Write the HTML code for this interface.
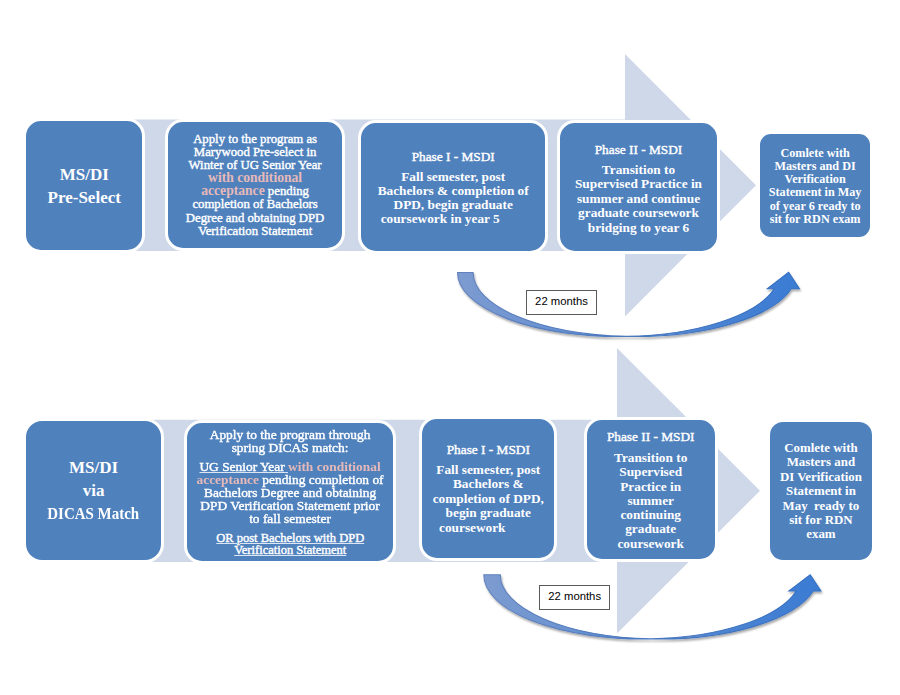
<!DOCTYPE html>
<html><head><meta charset="utf-8">
<style>
html,body{margin:0;padding:0;background:#fff;}
#c{position:relative;width:900px;height:695px;overflow:hidden;background:#fff;}
svg{position:absolute;left:0;top:0;}
.b{position:absolute;box-sizing:border-box;background:#4F81BD;border:3px solid #fff;}
.t{position:absolute;text-align:center;color:#fff;font-family:"Liberation Serif",serif;white-space:nowrap;}
.bold{font-weight:bold;}
.reg{-webkit-text-stroke:0.4px #fff;}
.sx{transform:scaleX(1.03);transform-origin:50% 0;}
.pk{color:#E6B9B8;font-weight:bold;-webkit-text-stroke:0;}
.u{text-decoration:underline;text-decoration-thickness:1px;text-underline-offset:1px;text-decoration-color:rgba(255,255,255,0.8);}
.lbl{position:absolute;box-sizing:border-box;border:1.2px solid #5a5a5a;background:#fff;font-family:"Liberation Sans",sans-serif;font-size:11.3px;color:#000;text-align:center;}
</style></head><body><div id="c">
<svg width="900" height="695" viewBox="0 0 900 695">
 <defs>
  <linearGradient id="g1" x1="0" x2="1" y1="0" y2="0">
   <stop offset="0" stop-color="#7C9BD0"/><stop offset="1" stop-color="#3A7BD3"/>
  </linearGradient>
  <linearGradient id="g2" x1="0" x2="1" y1="0" y2="0">
   <stop offset="0" stop-color="#6282BD"/><stop offset="1" stop-color="#336FC2"/>
  </linearGradient>
  <filter id="sh" x="-10%" y="-20%" width="120%" height="150%">
   <feGaussianBlur in="SourceAlpha" stdDeviation="1.2"/>
   <feOffset dx="0.5" dy="1.5" result="o"/>
   <feComponentTransfer><feFuncA type="linear" slope="0.35"/></feComponentTransfer>
   <feMerge><feMergeNode/><feMergeNode in="SourceGraphic"/></feMerge>
  </filter>
 </defs>
 <path d="M84,119.6 L625,119.6 L625,54 L756,185.2 L625,316.4 L625,250.9 L84,250.9 Z" fill="#CFD8E8"/>
 <path d="M94,419.8 L617,419.8 L617,348 L760,490.8 L617,633.6 L617,561.9 L94,561.9 Z" fill="#CFD8E8"/>
 <path d="M457.50,272.50 L473.10,272.50 A161.72,64.00 0 0 0 626.67,336.42 A161.06,64.00 0 0 0 774.30,288.80 L767.30,288.80 L788.60,272.20 L799.40,288.80 L791.20,288.80 A161.72,64.00 0 0 1 626.67,336.42 A161.06,64.00 0 0 1 457.50,272.50 Z" fill="url(#g1)" stroke="url(#g2)" stroke-width="1.1" stroke-linejoin="miter" filter="url(#sh)"/>
 <path d="M483.80,574.70 L500.30,574.70 A159.05,64.30 0 0 0 650.99,638.91 A158.84,64.30 0 0 0 796.30,591.00 L788.90,591.00 L810.20,574.70 L820.90,591.00 L813.20,591.00 A159.05,64.30 0 0 1 650.99,638.91 A158.84,64.30 0 0 1 483.80,574.70 Z" fill="url(#g1)" stroke="url(#g2)" stroke-width="1.1" stroke-linejoin="miter" filter="url(#sh)"/>
</svg>
<div class="b" style="left:23.20px;top:118.10px;width:122.10px;height:134.60px;border-radius:18.00px;border-width:3px"></div>
<div class="b" style="left:165.10px;top:119.20px;width:180.00px;height:132.10px;border-radius:18.00px;border-width:3px"></div>
<div class="b" style="left:358.20px;top:120.30px;width:190.00px;height:134.10px;border-radius:18.00px;border-width:3px"></div>
<div class="b" style="left:557.10px;top:120.30px;width:162.80px;height:134.10px;border-radius:18.00px;border-width:3px"></div>
<div class="b" style="left:760.00px;top:134.10px;width:110.20px;height:102.70px;border-radius:11.00px;border-width:0px"></div>
<div class="b" style="left:23.00px;top:418.30px;width:141.10px;height:144.60px;border-radius:19.00px;border-width:3px"></div>
<div class="b" style="left:184.20px;top:420.30px;width:212.10px;height:143.30px;border-radius:18.00px;border-width:3px"></div>
<div class="b" style="left:419.20px;top:415.80px;width:138.20px;height:145.50px;border-radius:18.00px;border-width:3px"></div>
<div class="b" style="left:583.70px;top:416.90px;width:134.00px;height:145.50px;border-radius:18.00px;border-width:3px"></div>
<div class="b" style="left:770.00px;top:421.60px;width:101.80px;height:138.20px;border-radius:13.00px;border-width:0px"></div>
<div class="t bold" style="left:26.20px;width:116.10px;top:162.5px;font-size:17px;line-height:23px;">MS/DI<br>Pre-Select</div>
<div class="t reg" style="left:168.10px;width:174.00px;top:133px;font-size:12.75px;line-height:13.1px;">Apply to the program as<br>Marywood Pre-select in<br>Winter of UG Senior Year<br><span class="pk" style="font-size:13.6px;line-height:0">with conditional</span><br><span class="pk" style="font-size:13.6px;line-height:0">acceptance</span> pending<br>completion of Bachelors<br>Degree and obtaining DPD<br>Verification Statement</div>
<div class="t reg" style="left:361.20px;width:184.00px;top:149.5px;font-size:13.3px;line-height:14px;">Phase I - MSDI</div>
<div class="t bold" style="left:361.20px;width:184.00px;top:170px;font-size:13.3px;line-height:14px;">Fall semester, post<br>Bachelors &amp; completion of<br>DPD, begin graduate<br><span style="margin-right:26px">coursework in year 5</span></div>
<div class="t reg" style="left:560.10px;width:156.80px;top:142.5px;font-size:13.3px;line-height:14.3px;">Phase II - MSDI</div>
<div class="t bold" style="left:560.10px;width:156.80px;top:162.5px;font-size:13.3px;line-height:14.6px;">Transition to<br>Supervised Practice in<br>summer and continue<br>graduate coursework<br>bridging to year 6</div>
<div class="t bold" style="left:760.00px;width:110.20px;top:146.5px;font-size:12.2px;line-height:13.3px;">Comlete with<br>Masters and DI<br>Verification<br>Statement in May<br>of year 6 ready to<br>sit for RDN exam</div>
<div class="t bold" style="left:26.00px;width:135.10px;top:456px;font-size:17px;line-height:23px;">MS/DI<br>via<br><span style="display:inline-block;transform:scaleX(0.88)">DICAS Match</span></div>
<div class="t reg sx" style="left:187.20px;width:206.10px;top:428px;font-size:13px;line-height:13.1px;">Apply to the program through<br>spring DICAS match:</div>
<div class="t reg sx" style="left:187.20px;width:206.10px;top:459.7px;font-size:13px;line-height:13.1px;"><span class="u">UG Senior Year </span><span class="pk">with conditional</span><br><span class="pk">acceptance</span> pending completion of<br>Bachelors Degree and obtaining<br>DPD Verification Statement prior<br>to fall semester</div>
<div class="t reg" style="left:187.20px;width:206.10px;top:531.5px;font-size:12.5px;line-height:12.4px;"><span class="u">OR post Bachelors with DPD</span><br><span class="u">Verification Statement</span></div>
<div class="t reg" style="left:422.20px;width:132.20px;top:443px;font-size:13.3px;line-height:14.4px;">Phase I - MSDI</div>
<div class="t bold" style="left:422.20px;width:132.20px;top:463px;font-size:13.3px;line-height:14.4px;">Fall semester, post<br>Bachelors &amp;<br>completion of DPD,<br>begin graduate<br><span style="margin-right:32px">coursework</span></div>
<div class="t reg" style="left:586.70px;width:128.00px;top:430px;font-size:13.3px;line-height:14.3px;">Phase II - MSDI</div>
<div class="t bold" style="left:586.70px;width:128.00px;top:451px;font-size:13.3px;line-height:14.3px;">Transition to<br>Supervised<br>Practice in<br>summer<br>continuing<br>graduate<br>coursework</div>
<div class="t bold" style="left:770.00px;width:101.80px;top:441px;font-size:12.9px;line-height:14.4px;">Comlete with<br>Masters and<br>DI Verification<br>Statement in<br>May&nbsp; ready to<br>sit for RDN<br>exam</div>
<div class="lbl" style="left:526px;top:289.5px;width:71px;height:25px;line-height:21.5px;">22 months</div>
<div class="lbl" style="left:539.2px;top:585.3px;width:71px;height:25px;line-height:20.5px;">22 months</div>
</div></body></html>
